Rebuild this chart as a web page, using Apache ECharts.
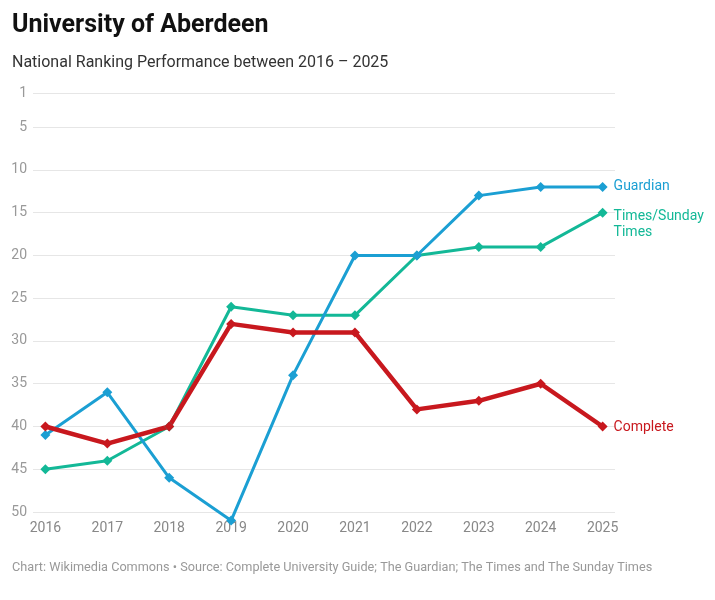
<!DOCTYPE html>
<html><head><meta charset="utf-8">
<script src="https://cdn.jsdelivr.net/npm/echarts@6/dist/echarts.min.js"></script>
<style>html,body{margin:0;padding:0;background:#fff}#c{width:715px;height:600px}</style>
</head><body><div id="c"></div>
<script>
const years = [2016, 2017, 2018, 2019, 2020, 2021, 2022, 2023, 2024, 2025];
const guardian = [41, 36, 46, 51, 34, 20, 20, 13, 12, 12];
const times = [45, 44, 40, 26, 27, 27, 20, 19, 19, 15];
const complete = [40, 42, 40, 28, 29, 29, 38, 37, 35, 40];
const yTicks = [1, 5, 10, 15, 20, 25, 30, 35, 40, 45, 50];

const FONT = 'Roboto';
function pairs(arr){ return years.map((y,i)=>[y, arr[i]]); }
function mk(name, label, data, color, width, offY){
  return {
    name, type:'line', data: pairs(data), symbol:'diamond', symbolSize: 10, clip:false,
    lineStyle:{color, width}, itemStyle:{color},
    endLabel:{show:true, formatter: label, color, fontFamily:FONT, fontSize:14, distance:11, lineHeight:16, offset:[0, offY]},
    z: 2
  };
}
const chart = echarts.init(document.getElementById('c'));
chart.setOption({
  animation:false,
  title:[
    {text:'University of Aberdeen', left:7, top:8, textStyle:{fontFamily:FONT, fontSize:25, fontWeight:'bold', color:'#111'}},
    {text:'National Ranking Performance between 2016 – 2025', left:7, top:50, textStyle:{fontFamily:FONT, fontSize:16, fontWeight:'normal', color:'#333'}},
    {text:'Chart: Wikimedia Commons • Source: Complete University Guide; The Guardian; The Times and The Sunday Times', left:7, top:556, textStyle:{fontFamily:FONT, fontSize:12.7, fontWeight:'normal', color:'#999'}}
  ],
  grid:{left:33, right:100, top:93, bottom:88, containLabel:false},
  xAxis:{type:'value', min:2015.8, max:2025.2,
    axisLine:{show:false}, axisTick:{show:false}, splitLine:{show:false},
    axisLabel:{customValues: years, color:'#888', fontFamily:FONT, fontSize:14, margin:9, formatter: v=>String(v)}},
  yAxis:{type:'value', inverse:true, min:1, max:50,
    axisLine:{show:false}, axisTick:{show:false, customValues: yTicks},
    splitLine:{show:true, lineStyle:{color:'#e6e6e6', width:1}},
    axisLabel:{customValues: yTicks, color:'#999', fontFamily:FONT, fontSize:14, margin:6}},
  series:[
    mk('Times/Sunday Times', 'Times/Sunday\nTimes', times, '#13b897', 3, 12),
    mk('Guardian', 'Guardian', guardian, '#1b9fd3', 3, -1),
    mk('Complete', 'Complete', complete, '#c8181e', 4.5, 1)
  ]
});
</script></body></html>
